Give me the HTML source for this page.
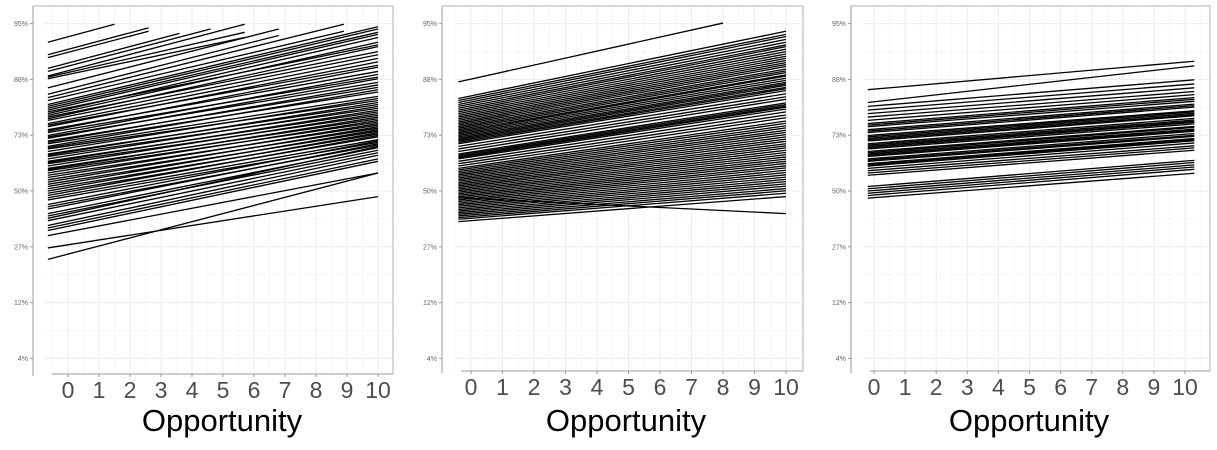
<!DOCTYPE html>
<html><head><meta charset="utf-8"><style>
html,body{margin:0;padding:0;background:#fff;}
svg{display:block;}
</style></head><body>
<svg id="chart" width="1217" height="450" viewBox="0 0 1217 450" xmlns="http://www.w3.org/2000/svg"></svg>
<script>
// ---- data ----
const yTickLabels = ["4%","12%","27%","50%","73%","88%","95%"];
const yTickLogits = [-3,-2,-1,0,1,2,3];
const xTickLabels = ["0","1","2","3","4","5","6","7","8","9","10"];

const p1Start = [93.5,92,91.6,90,89.5,88.7,88.5,88.2,86.4,85,84.2,83.5,
 82.5,82,81.5,81,80.5,80,79.5,79,78.5,78,77,76.5,76,75,74.5,74,73,72.5,72,71,70.5,70,69,68.5,68,67,66,65.5,65,64,63,62.5,62,61,60,59.5,59,58,57,56,55,54,53,52,51,50,49,48,47,46,44,43,42,40,39,38,37,35,34,33,31,26.5,22.7];
const p1End = [95.2,94.9,94.6,94.4,94.8,95.2,94.5,94.0,94.8,94.2,95.2,94.6,
 95.0,94.8,94.5,94.3,93.2,94.0,93.5,92.4,93.0,92.0,91.5,90.5,91.0,89.5,90.2,88.5,89.0,87.5,88.2,86.5,87.0,85.5,86.0,84.5,83.5,84.0,82.5,83.0,81.5,82.0,80.5,81.0,79.5,80.0,78.5,79.0,77.5,78.0,76.5,77.0,75.5,76.0,74.5,75.0,73.5,74.0,72.5,73.0,71.5,70.5,71.0,69.5,70.0,68.5,67.5,69.0,66.5,65.5,64.0,63.0,58.0,47.5,58.0];
const p1EndX = [1.5,2.6,2.6,3.6,4.6,5.7,5.7,5.7,6.8,6.8,8.9,8.9];

const p2Start = [87.6,84,83.5,83,82.5,82,81.5,81,80.5,80,79.5,79,78.5,78,77.5,77,76.5,76,75.5,75,74.5,74,73.5,73,72.5,72,71.5,71,70.5,70,69,68,67,66,65.5,65,64.5,64,63,62,61,
 60,59.3,58.6,57.9,57.2,56.5,55.8,55.1,54.4,53.7,53,52.3,51.6,50.9,50.2,49.5,48.8,48.1,47.4,46.7,46,45.3,44.6,43.9,43.2,42.5,41.8,41.1,40.4,39.7,39,38.3,37.6,36.6,47];
const p2End = [95.3,94.6,94.3,94.1,93.8,93.5,93.2,93.0,92.7,92.4,92.1,91.8,91.5,91.2,90.9,90.6,90.3,89.9,89.6,89.3,88.9,88.7,88.3,87.9,87.5,87.2,86.9,86.5,86.2,85.8,85.1,84.4,83.8,82.9,82.5,82.1,81.8,81.3,80.5,79.6,78.8,
 77.8,77.1,76.3,75.6,74.8,74.1,73.3,72.5,71.7,70.9,70.0,69.2,68.4,67.5,66.6,65.7,64.8,63.9,63.0,62.1,61.1,60.2,59.2,58.2,57.2,56.2,55.2,54.2,53.2,52.2,51.1,50.1,49.0,47.5,40];
const p2EndX = [8];

const p3Start = [86,83,82,81,80,79,78,77,76.5,76,75,74.5,74,73,72.5,72,71.5,71,70,69.5,69,68.5,68,67,66.5,66,65.5,65,64,63.5,63,62,61.5,61,60,59,58,57,52,51,50,49,48,46.8];
const p3End = [91.1,90.4,88,87.2,86.4,85.6,84.9,84.2,83.8,83.3,82.6,82.2,81.8,80.8,80.5,80.1,79.7,79.4,78.6,78.1,77.7,77.4,76.9,76.1,75.8,75.2,74.8,74.5,73.7,73.1,72.7,71.9,71.5,71.1,70.3,69.2,68.4,67.5,63.4,62.5,61.5,60.6,59.6,57.9];

// ---- layout ----
const NS="http://www.w3.org/2000/svg";
const svg=document.getElementById('chart');
function mk(tag,attrs,parent){const e=document.createElementNS(NS,tag);for(const k in attrs)e.setAttribute(k,attrs[k]);(parent||svg).appendChild(e);return e;}
const logit=p=>Math.log((p/100)/(1-p/100));
const yScale=p=>191-55.8*logit(p);
const yL=l=>191-55.8*l;

const panels=[
 {axisX:33,right:393,bottom:374,x0:68,x10:378,xs:-0.65,xe:10,s:p1Start,e:p1End,ex:p1EndX,lab:222},
 {axisX:442,right:803,bottom:371,x0:471,x10:786,xs:-0.4,xe:10,s:p2Start,e:p2End,ex:p2EndX,lab:626},
 {axisX:851,right:1210,bottom:371,x0:874,x10:1185,xs:-0.2,xe:10.3,s:p3Start,e:p3End,ex:[],lab:1029}
];

panels.forEach((P,pi)=>{
 const g=mk('g',{});
 
 
 const xS=v=>P.x0+(P.x10-P.x0)*v/10;
 const top=6;
 for(let l=-3.5;l<=3.01;l+=0.5){
  const y=yL(l); if(y<top||y>P.bottom) continue;
  const gl=mk('line',{x1:P.axisX+12,x2:P.right,y1:y,y2:y,stroke:Number.isInteger(l)?'#ebebeb':'#f4f4f4','stroke-width':Number.isInteger(l)?1:0.7},g);
  
  
 }
 for(let v=-0.5;v<=10.51;v+=0.5){
  const x=xS(v); if(x<P.axisX+10||x>P.right) continue;
  const gl=mk('line',{x1:x,x2:x,y1:top,y2:P.bottom,stroke:Number.isInteger(v)?'#ebebeb':'#f4f4f4','stroke-width':Number.isInteger(v)?1:0.7},g);
  
  
 }
 const b=mk('path',{d:`M${P.axisX} ${top}H${P.right}V${P.bottom}`,fill:'none',stroke:'#b3b3b3','stroke-width':1},g);
 
 
 const ya=mk('line',{x1:P.axisX,x2:P.axisX,y1:top,y2:P.bottom+2,stroke:'#999','stroke-width':1},g);
 
 
 yTickLogits.forEach((l,i)=>{
  const y=yL(l);
  const t=mk('line',{x1:P.axisX-3,x2:P.axisX,y1:y,y2:y,stroke:'#999'},g);
  
  
  const tx=mk('text',{x:P.axisX-5,y:y+2.5,'text-anchor':'end','font-size':7,fill:'#666','font-family':'Liberation Sans, sans-serif'},g);
  tx.textContent=yTickLabels[i];
  
  
 });
 const xa=mk('line',{x1:P.axisX+19,x2:P.right,y1:P.bottom,y2:P.bottom,stroke:'#999','stroke-width':1},g);
 
 
 xTickLabels.forEach((lab,i)=>{
  const x=xS(i);
  const t=mk('line',{x1:x,x2:x,y1:P.bottom,y2:P.bottom+3,stroke:'#999'},g);
  
  
  const tx=mk('text',{x:x,y:P.bottom+24,'text-anchor':'middle','font-size':23,fill:'#4d4d4d','font-family':'Liberation Sans, sans-serif'},g);
  tx.textContent=lab;
  
  
 });
 const at=mk('text',{x:P.lab,y:431,'text-anchor':'middle','font-size':31,fill:'#000','font-family':'Liberation Sans, sans-serif'},g);
 at.textContent='Opportunity';
 
 
 P.s.forEach((sv,i)=>{
  const endX = i<P.ex.length ? P.ex[i] : P.xe;
  const ln=mk('line',{x1:xS(P.xs),y1:yScale(sv),x2:xS(endX),y2:yScale(P.e[i]),stroke:'#000','stroke-width':1.3},g);
  
  
 });
});
</script>
</body></html>
